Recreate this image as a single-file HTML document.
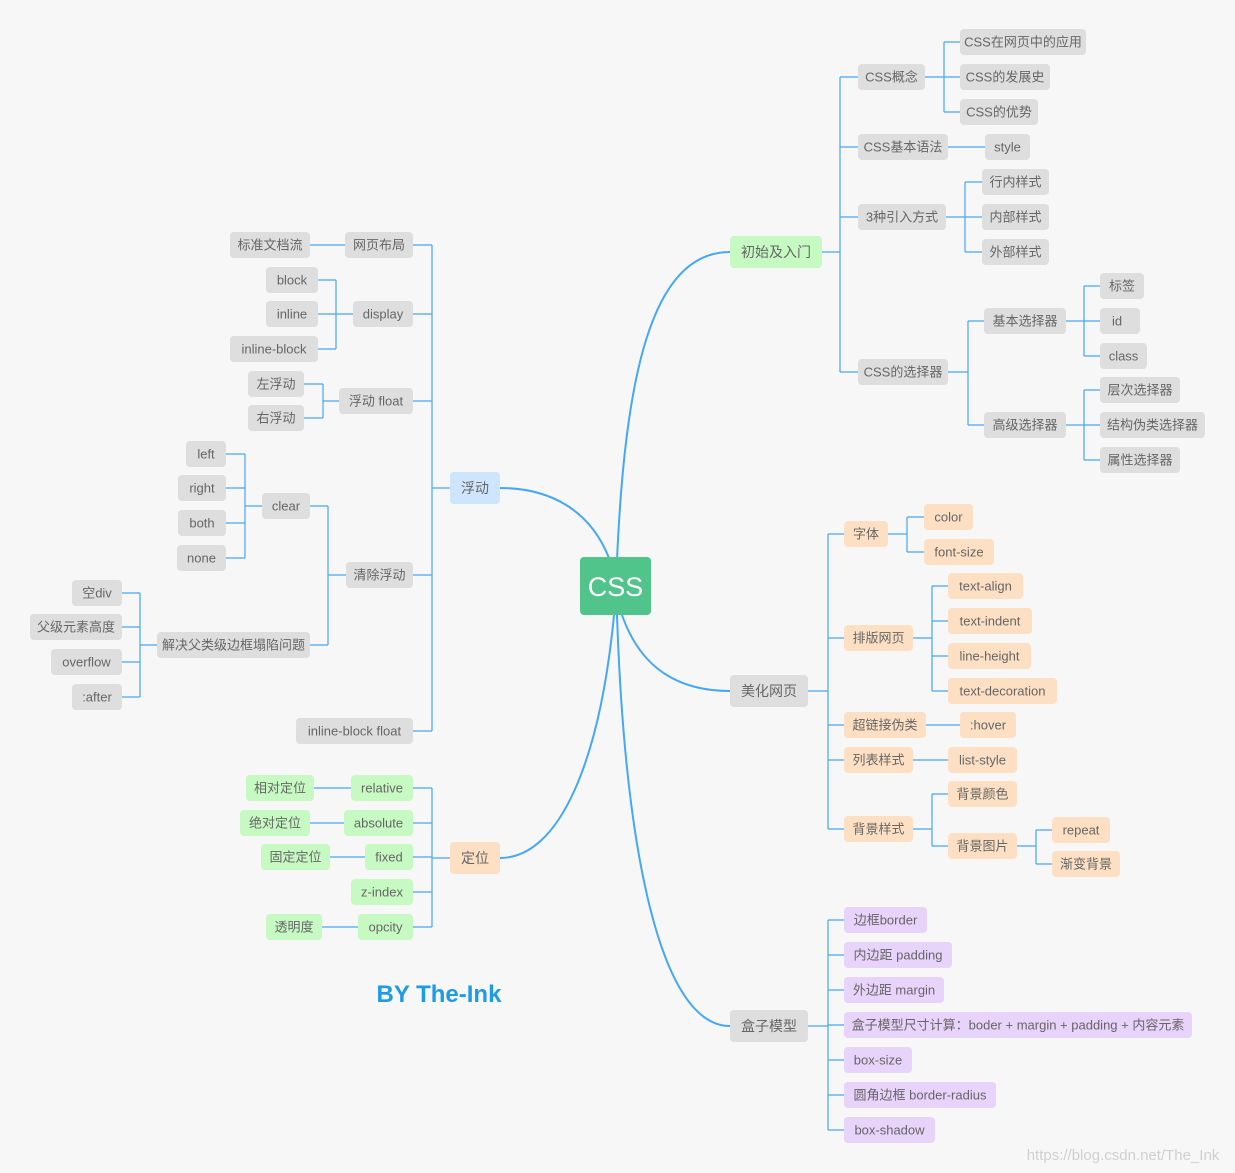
<!DOCTYPE html>
<html><head><meta charset="utf-8"><style>
html,body{margin:0;padding:0;background:#f7f7f7;}
svg{display:block;font-family:"Liberation Sans","Noto Sans CJK SC",sans-serif;}
.g{fill:#dedede}.gr{fill:#c7f9c3}.b{fill:#cde6fd}.o{fill:#fde0c4}.p{fill:#e8d3fb}
text{font-size:13px;fill:#666;text-anchor:middle}
.l{fill:none;stroke:#46a7f5;stroke-width:1.2}
.c{fill:none;stroke:#46a7f5;stroke-width:2}
</style></head><body>
<svg width="1235" height="1173" viewBox="0 0 1235 1173">
<rect width="1235" height="1173" fill="#f7f7f7"/>
<!-- main curves -->
<path class="c" d="M617,560 C625,380 650,252 730,252"/>
<path class="c" d="M609,558 C590,510 550,488 500,488"/>
<path class="c" d="M621,612 C640,670 680,691 730,691"/>
<path class="c" d="M614,615 C600,760 560,858 500,858"/>
<path class="c" d="M617,615 C625,850 660,1026 730,1026"/>
<!-- connectors -->
<g class="l">
<path d="M822,252H840M840,77V372M840,77H858M840,147H858M840,217H858M840,372H858"/>
<path d="M925,77H944M944,42V112M944,42H960M944,77H960M944,112H960"/>
<path d="M948,147H985"/>
<path d="M946,217H965M965,182V252M965,182H982M965,217H982M965,252H982"/>
<path d="M948,372H968M968,321V425M968,321H984M968,425H984"/>
<path d="M1066,321H1084M1084,286V356M1084,286H1100M1084,321H1100M1084,356H1100"/>
<path d="M1066,425H1084M1084,390V460M1084,390H1100M1084,425H1100M1084,460H1100"/>
<path d="M808,691H828M828,534V829M828,534H844M828,638H844M828,725H844M828,760H844M828,829H844"/>
<path d="M888,534H907M907,517V552M907,517H924M907,552H924"/>
<path d="M913,638H932M932,586V691M932,586H948M932,621H948M932,656H948M932,691H948"/>
<path d="M926,725H960M913,760H948"/>
<path d="M913,829H932M932,794V846M932,794H948M932,846H948"/>
<path d="M1017,846H1036M1036,830V864M1036,830H1052M1036,864H1052"/>
<path d="M808,1026H828M828,920V1130M828,920H844M828,955H844M828,990H844M828,1025H844M828,1060H844M828,1095H844M828,1130H844"/>
<path d="M450,488H432M432,245V731M432,245H413M432,314H413M432,401H413M432,575H413M432,731H413"/>
<path d="M345,245H310"/>
<path d="M353,314H336M336,280V349M336,280H318M336,314H318M336,349H318"/>
<path d="M339,401H323M323,384V418M323,384H304M323,418H304"/>
<path d="M346,575H328M328,506V645M328,506H310M328,645H310"/>
<path d="M262,506H245M245,454V558M245,454H226M245,488H226M245,523H226M245,558H226"/>
<path d="M157,645H140M140,593V697M140,593H122M140,627H122M140,662H122M140,697H122"/>
<path d="M450,858H432M432,788V927M432,788H413M432,823H413M432,857H413M432,892H413M432,927H413"/>
<path d="M351,788H314M344,823H310M365,857H330M358,927H322"/>
</g>
<!-- CSS root -->
<rect x="580" y="557" width="71" height="58" rx="4" fill="#50c48a"/>
<text x="615.5" y="596" style="font-size:27px;fill:#fff">CSS</text>
<!-- nodes -->
<rect class="gr" x="730" y="236" width="92" height="32" rx="4"/><text x="776" y="257" style="font-size:14px">初始及入门</text>
<rect class="g" x="858" y="64" width="67" height="26" rx="4"/><text x="891.5" y="81.5">CSS概念</text>
<rect class="g" x="858" y="134" width="90" height="26" rx="4"/><text x="903" y="151.5">CSS基本语法</text>
<rect class="g" x="858" y="204" width="88" height="26" rx="4"/><text x="902" y="221.5">3种引入方式</text>
<rect class="g" x="858" y="359" width="90" height="26" rx="4"/><text x="903" y="376.5">CSS的选择器</text>
<rect class="g" x="960" y="29" width="126" height="26" rx="4"/><text x="1023" y="46.5">CSS在网页中的应用</text>
<rect class="g" x="960" y="64" width="90" height="26" rx="4"/><text x="1005" y="81.5">CSS的发展史</text>
<rect class="g" x="960" y="99" width="78" height="26" rx="4"/><text x="999" y="116.5">CSS的优势</text>
<rect class="g" x="985" y="134" width="45" height="26" rx="4"/><text x="1007.5" y="151.5">style</text>
<rect class="g" x="982" y="169" width="67" height="26" rx="4"/><text x="1015.5" y="186.5">行内样式</text>
<rect class="g" x="982" y="204" width="67" height="26" rx="4"/><text x="1015.5" y="221.5">内部样式</text>
<rect class="g" x="982" y="239" width="67" height="26" rx="4"/><text x="1015.5" y="256.5">外部样式</text>
<rect class="g" x="984" y="308" width="82" height="26" rx="4"/><text x="1025" y="325.5">基本选择器</text>
<rect class="g" x="984" y="412" width="82" height="26" rx="4"/><text x="1025" y="429.5">高级选择器</text>
<rect class="g" x="1100" y="273" width="44" height="26" rx="4"/><text x="1122" y="290.5">标签</text>
<rect class="g" x="1100" y="308" width="40" height="26" rx="4"/><text x="1117" y="325.5">id</text>
<rect class="g" x="1100" y="343" width="47" height="26" rx="4"/><text x="1123.5" y="360.5">class</text>
<rect class="g" x="1100" y="377" width="80" height="26" rx="4"/><text x="1140" y="394.5">层次选择器</text>
<rect class="g" x="1100" y="412" width="105" height="26" rx="4"/><text x="1152.5" y="429.5">结构伪类选择器</text>
<rect class="g" x="1100" y="447" width="80" height="26" rx="4"/><text x="1140" y="464.5">属性选择器</text>

<rect class="g" x="730" y="675" width="78" height="32" rx="4"/><text x="769" y="696" style="font-size:14px">美化网页</text>
<rect class="o" x="844" y="521" width="44" height="26" rx="4"/><text x="866" y="538.5">字体</text>
<rect class="o" x="924" y="504" width="49" height="26" rx="4"/><text x="948.5" y="521.5">color</text>
<rect class="o" x="924" y="539" width="70" height="26" rx="4"/><text x="959" y="556.5">font-size</text>
<rect class="o" x="844" y="625" width="69" height="26" rx="4"/><text x="878.5" y="642.5">排版网页</text>
<rect class="o" x="948" y="573" width="75" height="26" rx="4"/><text x="985.5" y="590.5">text-align</text>
<rect class="o" x="948" y="608" width="84" height="26" rx="4"/><text x="990" y="625.5">text-indent</text>
<rect class="o" x="948" y="643" width="83" height="26" rx="4"/><text x="989.5" y="660.5">line-height</text>
<rect class="o" x="948" y="678" width="109" height="26" rx="4"/><text x="1002.5" y="695.5">text-decoration</text>
<rect class="o" x="844" y="712" width="82" height="26" rx="4"/><text x="885" y="729.5">超链接伪类</text>
<rect class="o" x="960" y="712" width="56" height="26" rx="4"/><text x="988" y="729.5">:hover</text>
<rect class="o" x="844" y="747" width="69" height="26" rx="4"/><text x="878.5" y="764.5">列表样式</text>
<rect class="o" x="948" y="747" width="69" height="26" rx="4"/><text x="982.5" y="764.5">list-style</text>
<rect class="o" x="844" y="816" width="69" height="26" rx="4"/><text x="878.5" y="833.5">背景样式</text>
<rect class="o" x="948" y="781" width="69" height="26" rx="4"/><text x="982.5" y="798.5">背景颜色</text>
<rect class="o" x="948" y="833" width="69" height="26" rx="4"/><text x="982.5" y="850.5">背景图片</text>
<rect class="o" x="1052" y="817" width="58" height="26" rx="4"/><text x="1081" y="834.5">repeat</text>
<rect class="o" x="1052" y="851" width="68" height="26" rx="4"/><text x="1086" y="868.5">渐变背景</text>

<rect class="g" x="730" y="1010" width="78" height="32" rx="4"/><text x="769" y="1031" style="font-size:14px">盒子模型</text>
<rect class="p" x="844" y="907" width="83" height="26" rx="4"/><text x="885.5" y="924.5">边框border</text>
<rect class="p" x="844" y="942" width="108" height="26" rx="4"/><text x="898" y="959.5">内边距 padding</text>
<rect class="p" x="844" y="977" width="100" height="26" rx="4"/><text x="894" y="994.5">外边距 margin</text>
<rect class="p" x="844" y="1012" width="348" height="26" rx="4"/><text x="1018" y="1029.5">盒子模型尺寸计算：boder + margin + padding + 内容元素</text>
<rect class="p" x="844" y="1047" width="68" height="26" rx="4"/><text x="878" y="1064.5">box-size</text>
<rect class="p" x="844" y="1082" width="152" height="26" rx="4"/><text x="920" y="1099.5">圆角边框 border-radius</text>
<rect class="p" x="844" y="1117" width="91" height="26" rx="4"/><text x="889.5" y="1134.5">box-shadow</text>

<rect class="b" x="450" y="472" width="50" height="32" rx="4"/><text x="475" y="493" style="font-size:14px">浮动</text>
<rect class="g" x="345" y="232" width="68" height="26" rx="4"/><text x="379" y="249.5">网页布局</text>
<rect class="g" x="230" y="232" width="80" height="26" rx="4"/><text x="270" y="249.5">标准文档流</text>
<rect class="g" x="353" y="301" width="60" height="26" rx="4"/><text x="383" y="318.5">display</text>
<rect class="g" x="266" y="267" width="52" height="26" rx="4"/><text x="292" y="284.5">block</text>
<rect class="g" x="266" y="301" width="52" height="26" rx="4"/><text x="292" y="318.5">inline</text>
<rect class="g" x="230" y="336" width="88" height="26" rx="4"/><text x="274" y="353.5">inline-block</text>
<rect class="g" x="339" y="388" width="74" height="26" rx="4"/><text x="376" y="405.5">浮动 float</text>
<rect class="g" x="248" y="371" width="56" height="26" rx="4"/><text x="276" y="388.5">左浮动</text>
<rect class="g" x="248" y="405" width="56" height="26" rx="4"/><text x="276" y="422.5">右浮动</text>
<rect class="g" x="346" y="562" width="67" height="26" rx="4"/><text x="379.5" y="579.5">清除浮动</text>
<rect class="g" x="262" y="493" width="48" height="26" rx="4"/><text x="286" y="510.5">clear</text>
<rect class="g" x="186" y="441" width="40" height="26" rx="4"/><text x="206" y="458.5">left</text>
<rect class="g" x="178" y="475" width="48" height="26" rx="4"/><text x="202" y="492.5">right</text>
<rect class="g" x="178" y="510" width="48" height="26" rx="4"/><text x="202" y="527.5">both</text>
<rect class="g" x="177" y="545" width="49" height="26" rx="4"/><text x="201.5" y="562.5">none</text>
<rect class="g" x="157" y="632" width="153" height="26" rx="4"/><text x="233.5" y="649.5">解决父类级边框塌陷问题</text>
<rect class="g" x="72" y="580" width="50" height="26" rx="4"/><text x="97" y="597.5">空div</text>
<rect class="g" x="30" y="614" width="92" height="26" rx="4"/><text x="76" y="631.5">父级元素高度</text>
<rect class="g" x="51" y="649" width="71" height="26" rx="4"/><text x="86.5" y="666.5">overflow</text>
<rect class="g" x="72" y="684" width="50" height="26" rx="4"/><text x="97" y="701.5">:after</text>
<rect class="g" x="296" y="718" width="117" height="26" rx="4"/><text x="354.5" y="735.5">inline-block float</text>

<rect class="o" x="450" y="842" width="50" height="32" rx="4"/><text x="475" y="863" style="font-size:14px">定位</text>
<rect class="gr" x="351" y="775" width="62" height="26" rx="4"/><text x="382" y="792.5">relative</text>
<rect class="gr" x="344" y="810" width="69" height="26" rx="4"/><text x="378.5" y="827.5">absolute</text>
<rect class="gr" x="365" y="844" width="48" height="26" rx="4"/><text x="389" y="861.5">fixed</text>
<rect class="gr" x="351" y="879" width="62" height="26" rx="4"/><text x="382" y="896.5">z-index</text>
<rect class="gr" x="358" y="914" width="55" height="26" rx="4"/><text x="385.5" y="931.5">opcity</text>
<rect class="gr" x="246" y="775" width="68" height="26" rx="4"/><text x="280" y="792.5">相对定位</text>
<rect class="gr" x="240" y="810" width="70" height="26" rx="4"/><text x="275" y="827.5">绝对定位</text>
<rect class="gr" x="261" y="844" width="69" height="26" rx="4"/><text x="295.5" y="861.5">固定定位</text>
<rect class="gr" x="266" y="914" width="56" height="26" rx="4"/><text x="294" y="931.5">透明度</text>

<text x="439" y="1002" style="font-size:24px;font-weight:bold;fill:#1e9be8">BY The-Ink</text>
<text x="1123" y="1160" style="font-size:15px;fill:#d0d0d0">https://blog.csdn.net/The_Ink</text>
</svg>
</body></html>
